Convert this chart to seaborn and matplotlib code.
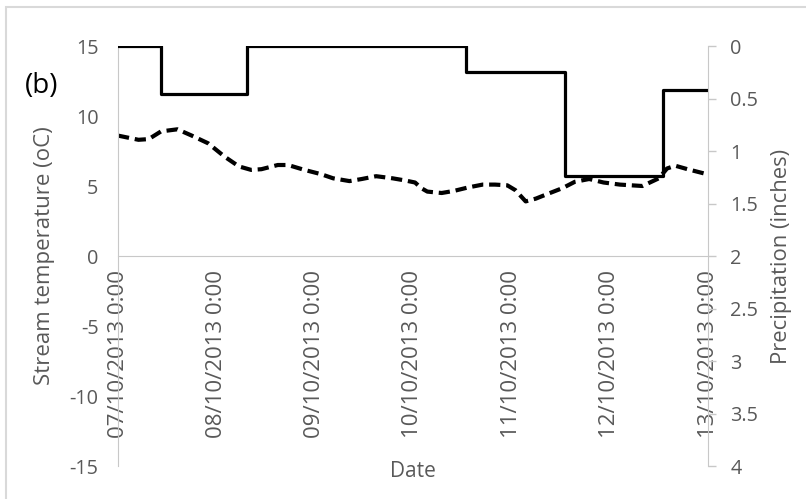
import numpy as np
import pandas as pd
import matplotlib
matplotlib.use("Agg")
import matplotlib.pyplot as plt
from matplotlib.patches import Rectangle
from matplotlib.ticker import FuncFormatter
import seaborn as sns

# ---- data ---------------------------------------------------------------
start = pd.Timestamp("2013-10-07 00:00")

# stream temperature (hours since start, degrees C)
temp_hours = [0, 5, 7.5, 10.5, 14.5, 18, 22, 26, 29.5, 32.5, 35, 39, 41.5,
              45.5, 49.5, 52.5, 56.5, 59.5, 63, 67, 70, 72.5, 74, 75.5, 79,
              82, 85.5, 89, 92, 95, 97, 99.5, 102, 105, 108.5, 111.5, 115,
              118.5, 122.5, 128, 132, 134, 136, 139, 143, 144]
temp_values = [8.6, 8.3, 8.35, 8.9, 9.05, 8.6, 8.05, 7.1, 6.4, 6.15, 6.2,
               6.5, 6.5, 6.15, 5.85, 5.55, 5.35, 5.5, 5.7, 5.55, 5.4, 5.25,
               4.85, 4.6, 4.5, 4.65, 4.9, 5.1, 5.1, 5.05, 4.7, 3.9, 4.1, 4.45,
               4.85, 5.3, 5.5, 5.25, 5.1, 5.0, 5.55, 6.25, 6.45, 6.2, 5.9, 5.8]

# precipitation (hours since start, inches), stepped
precip_hours = [0, 10.5, 31.5, 85, 109, 133, 144]
precip_values = [0, 0.46, 0, 0.25, 1.24, 0.42, 0.42]

tick_labels = ["07/10/2013 0:00", "08/10/2013 0:00", "09/10/2013 0:00",
               "10/10/2013 0:00", "11/10/2013 0:00", "12/10/2013 0:00",
               "13/10/2013 0:00"]
temp_ticks = [-15, -10, -5, 0, 5, 10, 15]
precip_ticks = [0, 0.5, 1, 1.5, 2, 2.5, 3, 3.5, 4]

temp_df = pd.DataFrame({
    "Date": start + pd.to_timedelta(temp_hours, unit="h"),
    "Temperature": temp_values,
})
precip_df = pd.DataFrame({
    "Date": start + pd.to_timedelta(precip_hours, unit="h"),
    "Precipitation": precip_values,
})
tick_dates = pd.date_range(start, periods=len(tick_labels), freq="D")

# ---- style ----------------------------------------------------------------
sns.set_style("white")
plt.rcParams["font.family"] = ["Open Sans", "DejaVu Sans"]
plt.rcParams["axes.unicode_minus"] = False
GREY_TXT = "#595959"
GREY_LN = "#c8c8c8"
TICK_FS = 14.3

fig = plt.figure(figsize=(8.06, 4.99), dpi=100)
ax = fig.add_axes([118 / 806, 1 - 466 / 499, 590 / 806, 420 / 499])
ax2 = ax.twinx()

sns.lineplot(data=temp_df, x="Date", y="Temperature", ax=ax, color="black",
             lw=3.0, linestyle=(0, (2.7, 1.4)))
sns.lineplot(data=precip_df, x="Date", y="Precipitation", ax=ax2,
             color="black", lw=2.3, drawstyle="steps-post")

# left axis: temperature
ax.set_ylim(-15, 15)
ax.set_yticks(temp_ticks)
ax.set_xlim(tick_dates[0], tick_dates[-1])
ax.set_xticks(tick_dates)
ax.set_xticklabels(tick_labels)
ax.tick_params(axis="x", length=0, pad=10, labelsize=16,
               colors=GREY_TXT, labelrotation=90)
ax.tick_params(axis="y", length=0, pad=14, labelsize=TICK_FS,
               colors=GREY_TXT)
for side in ("top", "right"):
    ax.spines[side].set_visible(False)
ax.spines["left"].set_color(GREY_LN)
ax.spines["bottom"].set_color(GREY_LN)
ax.spines["bottom"].set_position(("data", 0))
ax.set_ylabel("Stream temperature (oC)", fontsize=16, color=GREY_TXT)
ax.yaxis.set_label_coords(-0.1254, 0.5)
ax.yaxis.label.set_va("center")
ax.set_xlabel("Date", fontsize=15, color=GREY_TXT)
ax.xaxis.set_label_coords(0.5, -0.012)
ax.xaxis.label.set_va("center")

# right axis: precipitation, inverted
ax2.set_ylim(4, 0)
ax2.set_yticks(precip_ticks)
ax2.yaxis.set_major_formatter(FuncFormatter(lambda v, p: f"{v:g}"))
ax2.tick_params(axis="y", length=6, width=1, pad=10, labelsize=TICK_FS,
                colors=GREY_TXT)
ax2.tick_params(axis="y", color=GREY_LN)
for side in ("top", "left", "bottom"):
    ax2.spines[side].set_visible(False)
ax2.spines["right"].set_color(GREY_LN)
ax2.set_xlabel("")
ax2.set_ylabel("Precipitation (inches)", fontsize=15.8, color=GREY_TXT,
               rotation=90)
ax2.yaxis.set_label_coords(1.1254, 0.5)
ax2.yaxis.label.set_va("center")

ax.text(-0.158, 0.905, "(b)", transform=ax.transAxes, fontsize=20,
        color="black", ha="left", va="center")

# chart frame
fig.patches.append(Rectangle((6 / 806, -0.05), 1.2, 1 - 7 / 499 + 0.05,
                             transform=fig.transFigure, fill=False,
                             ec="#d9d9d9", lw=1.5))

fig.savefig("out.png", dpi=100)
